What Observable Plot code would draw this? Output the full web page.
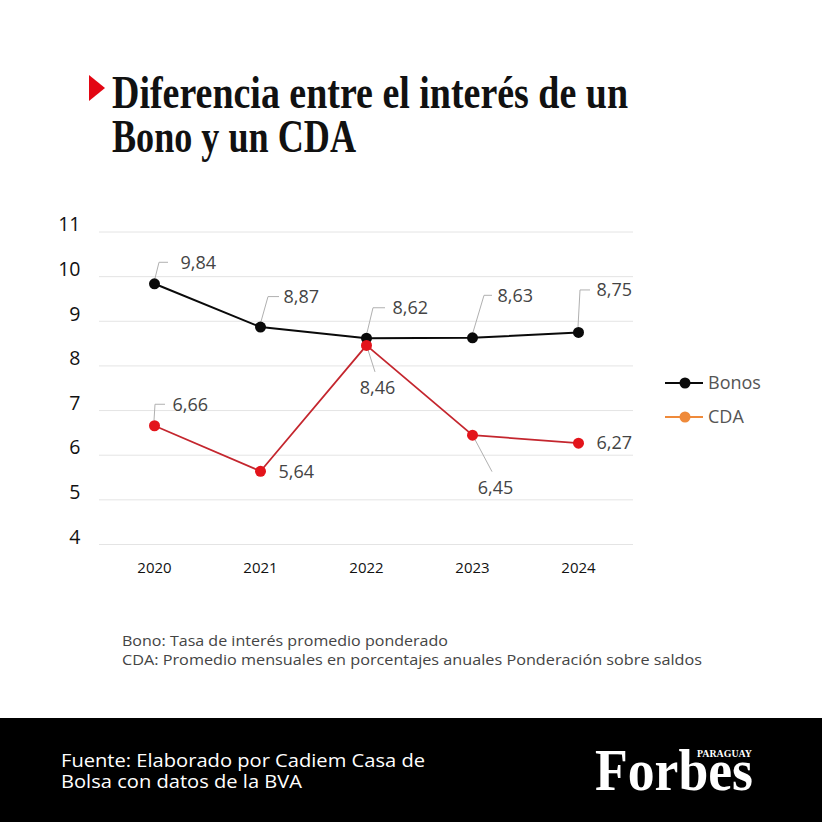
<!DOCTYPE html>
<html>
<head>
<meta charset="utf-8">
<script src="https://cdn.jsdelivr.net/npm/d3@7"></script>
<script src="https://cdn.jsdelivr.net/npm/@observablehq/plot@0.6"></script>
<style>
  html, body { margin: 0; padding: 0; background: #fff; }
  #page { position: relative; width: 822px; height: 822px; overflow: hidden; background: #fff; font-family: "Open Sans", sans-serif; }
  #overlay { position: absolute; left: 0; top: 0; }
  #chart { position: absolute; left: 0; top: 200px; }
</style>
</head>
<body>
<div id="page">
  <svg id="overlay" width="822" height="822" xmlns="http://www.w3.org/2000/svg"></svg>
  <div id="chart"></div>
</div>
<script>
// ---- data ----
const years = ["2020", "2021", "2022", "2023", "2024"];
const bonos = [9.84, 8.87, 8.62, 8.63, 8.75];
const cda = [6.66, 5.64, 8.46, 6.45, 6.27];
const yTicks = [4, 5, 6, 7, 8, 9, 10, 11];
const seriesNames = ["Bonos", "CDA"];
const titleLines = ["Diferencia entre el interés de un", "Bono y un CDA"];
const noteLines = ["Bono: Tasa de interés promedio ponderado", "CDA: Promedio mensuales en porcentajes anuales Ponderación sobre saldos"];
const sourceLines = ["Fuente: Elaborado por Cadiem Casa de", "Bolsa con datos de la BVA"];

// ---- layout (label offsets in pixels, not data) ----
const bonoLabelLayout = [
  {dx: 26, dy: -21, anchor: "start", leader: [[1, -5], [5, -21], [14, -21]]},
  {dx: 23, dy: -30, anchor: "start", leader: [[1, -5], [8, -30], [19, -30]]},
  {dx: 26, dy: -30, anchor: "start", leader: [[1, -5], [7, -30], [19, -30]]},
  {dx: 25, dy: -42, anchor: "start", leader: [[1, -5], [12, -42], [20, -42]]},
  {dx: 18, dy: -42, anchor: "start", leader: [[0, -5], [2, -42], [12, -42]]}
];
const cdaLabelLayout = [
  {dx: 18, dy: -21, anchor: "start", leader: [[0, -5], [1, -21], [11, -21]]},
  {dx: 18, dy: 1, anchor: "start", leader: null},
  {dx: 11, dy: 43, anchor: "middle", leader: [[2, 5], [9, 27]]},
  {dx: 23, dy: 53, anchor: "middle", leader: [[3, 5], [20, 37]]},
  {dx: 18, dy: 0, anchor: "start", leader: null}
];

const fmt = v => d3.format(".2f")(v).replace(".", ",");
const bonoRows = years.map((year, i) => ({year, value: bonos[i], series: seriesNames[0]}));
const cdaRows = years.map((year, i) => ({year, value: cda[i], series: seriesNames[1]}));

const colorBono = "#0a0a0a";
const colorCdaLine = "#c4262e";
const colorCdaDot = "#e3141b";
const colorCdaLegend = "#ef8a3a";

function labelMarks(rows, layout) {
  return rows.map((r, i) => Plot.text([r], {
    x: "year", y: "value", text: d => fmt(d.value),
    dx: layout[i].dx, dy: layout[i].dy, textAnchor: layout[i].anchor,
    fontSize: 18, fill: "#444"
  }));
}

const chart = Plot.plot({
  width: 822,
  height: 400,
  marginTop: 31.5,
  marginBottom: 56,
  marginLeft: 99,
  marginRight: 189,
  style: {fontFamily: "Open Sans, sans-serif", background: "transparent", overflow: "visible", color: "#111"},
  x: {type: "point", domain: years, padding: 0.5, label: null},
  y: {domain: [4, 11], label: null},
  marks: [
    Plot.gridY(yTicks, {stroke: "#e4e4e4", strokeOpacity: 1}),
    Plot.axisY(yTicks, {tickSize: 0, tickPadding: 19, fontSize: 19.5, dy: -7, label: null}),
    Plot.axisX({tickSize: 0, tickPadding: 18, fontSize: 15, fontWeight: 500, label: null}),
    Plot.line(bonoRows, {x: "year", y: "value", stroke: colorBono, strokeWidth: 2}),
    Plot.line(cdaRows, {x: "year", y: "value", stroke: colorCdaLine, strokeWidth: 1.8}),
    Plot.dot(bonoRows, {x: "year", y: "value", r: 5.5, fill: colorBono}),
    Plot.dot(cdaRows, {x: "year", y: "value", r: 5.5, fill: colorCdaDot}),
    ...labelMarks(bonoRows, bonoLabelLayout),
    ...labelMarks(cdaRows, cdaLabelLayout)
  ]
});
document.getElementById("chart").appendChild(chart);

// leader lines, positioned through the plot's own scales
(function () {
  const sx = chart.scale("x"), sy = chart.scale("y");
  const firstDot = chart.querySelector('g[aria-label="dot"]');
  const g = document.createElementNS("http://www.w3.org/2000/svg", "g");
  chart.insertBefore(g, firstDot);
  const sel = d3.select(g);
  [[bonoRows, bonoLabelLayout], [cdaRows, cdaLabelLayout]].forEach(([rows, layout]) => {
    rows.forEach((r, i) => {
      const L = layout[i].leader;
      if (!L) return;
      const px = sx.apply(r.year), py = sy.apply(r.value);
      sel.append("path")
        .attr("d", "M" + L.map(([dx, dy]) => (px + dx) + "," + (py + dy)).join("L"))
        .attr("fill", "none").attr("stroke", "#b0b0b0").attr("stroke-width", 1);
    });
  });
})();

// ---- overlay: title, legend, note, footer ----
const ov = d3.select("#overlay");
ov.append("polygon").attr("points", "89,75 105,88 89,101").attr("fill", "#e30613");
const titleBase = [108, 152];
const titleWidths = [516, 244];
titleLines.forEach((t, i) => {
  ov.append("text").attr("x", 112).attr("y", titleBase[i])
    .attr("font-family", "Liberation Serif, serif").attr("font-weight", "bold")
    .attr("font-size", 46).attr("fill", "#111")
    .attr("textLength", titleWidths[i]).attr("lengthAdjust", "spacingAndGlyphs")
    .text(t);
});

// legend
const legendItems = [
  {name: seriesNames[0], color: colorBono, y: 383},
  {name: seriesNames[1], color: colorCdaLegend, y: 417}
];
legendItems.forEach(it => {
  ov.append("line").attr("x1", 665).attr("x2", 703).attr("y1", it.y).attr("y2", it.y)
    .attr("stroke", it.color).attr("stroke-width", 2);
  ov.append("circle").attr("cx", 685).attr("cy", it.y).attr("r", 5.5).attr("fill", it.color);
  ov.append("text").attr("x", 708).attr("y", it.y).attr("dy", "0.35em")
    .attr("font-family", "Open Sans, sans-serif").attr("font-size", 18).attr("fill", "#555")
    .text(it.name);
});

// note
const noteBase = [646, 665];
const noteWidths = [326, 580];
noteLines.forEach((t, i) => {
  ov.append("text").attr("x", 122).attr("y", noteBase[i])
    .attr("font-family", "Open Sans, sans-serif").attr("font-size", 15).attr("fill", "#444")
    .attr("textLength", noteWidths[i]).attr("lengthAdjust", "spacingAndGlyphs")
    .text(t);
});

// footer
ov.append("rect").attr("x", 0).attr("y", 718).attr("width", 822).attr("height", 104).attr("fill", "#000");
const srcBase = [767, 788];
const srcWidths = [364, 241];
sourceLines.forEach((t, i) => {
  ov.append("text").attr("x", 61).attr("y", srcBase[i])
    .attr("font-family", "Open Sans, sans-serif").attr("font-size", 18.5).attr("fill", "#fff")
    .attr("textLength", srcWidths[i]).attr("lengthAdjust", "spacingAndGlyphs")
    .text(t);
});
ov.append("text").attr("x", 595).attr("y", 790)
  .attr("font-family", "Liberation Serif, serif").attr("font-weight", "bold")
  .attr("font-size", 60).attr("fill", "#fff")
  .attr("textLength", 158).attr("lengthAdjust", "spacingAndGlyphs")
  .text("Forbes");
ov.append("text").attr("x", 697).attr("y", 757)
  .attr("font-family", "Liberation Serif, serif").attr("font-weight", "bold")
  .attr("font-size", 10.5).attr("fill", "#fff")
  .attr("textLength", 55).attr("lengthAdjust", "spacingAndGlyphs")
  .text("PARAGUAY");
</script>
</body>
</html>
